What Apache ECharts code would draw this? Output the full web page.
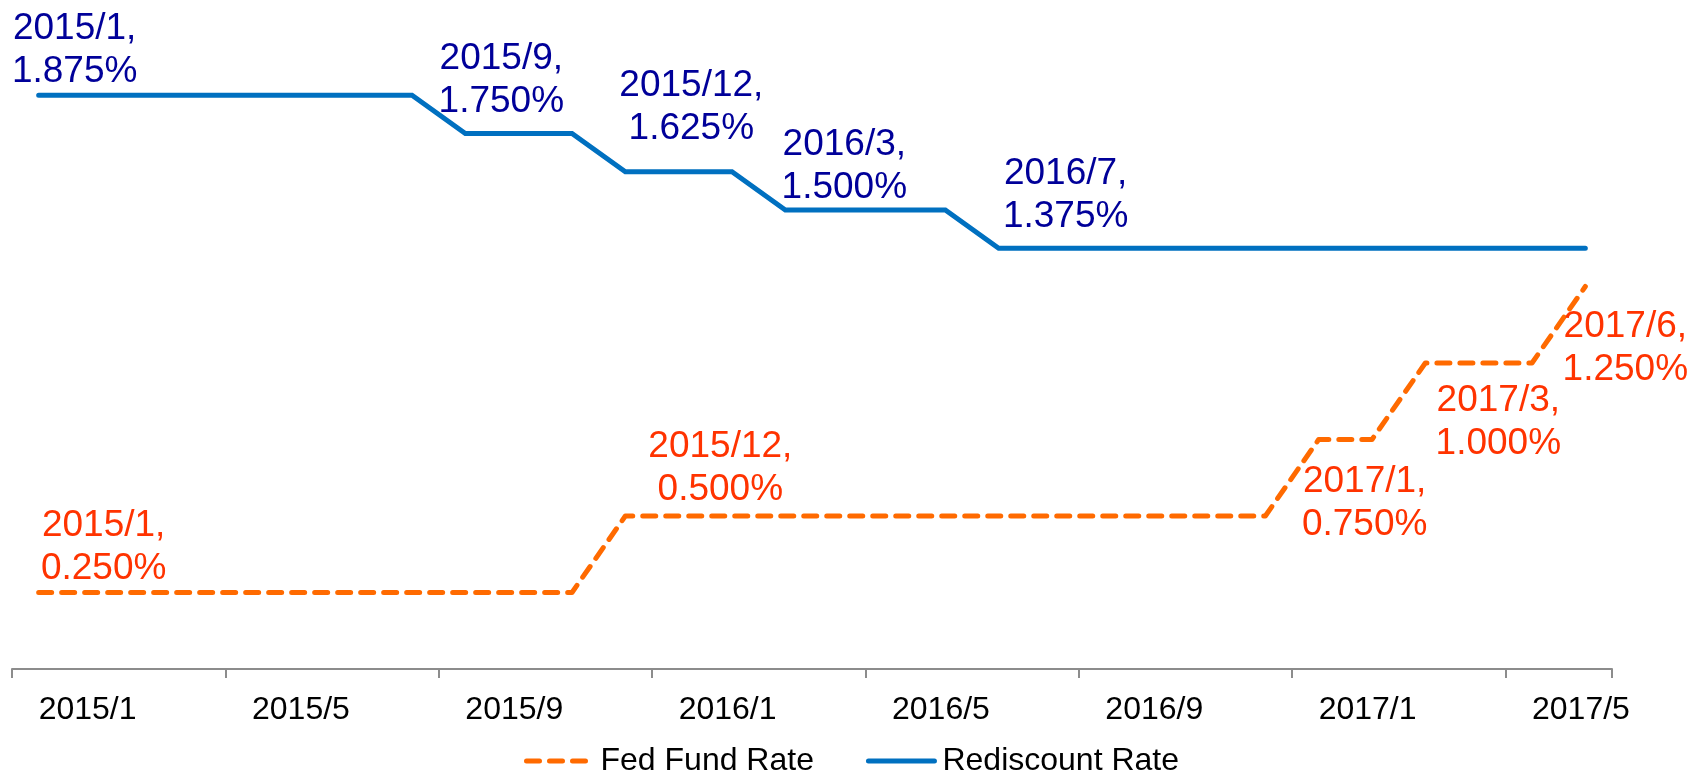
<!DOCTYPE html>
<html>
<head>
<meta charset="utf-8">
<title>Fed Fund Rate vs Rediscount Rate</title>
<script src="https://cdn.jsdelivr.net/npm/echarts@6/dist/echarts.min.js"></script>
<style>
  html, body { margin: 0; padding: 0; background: #ffffff; }
  #chart { width: 1706px; height: 775px; }
</style>
</head>
<body>
<div id="chart"></div>
<script>
// Monthly categories, 2015/1 through 2017/6
const months = [
  '2015/1','2015/2','2015/3','2015/4','2015/5','2015/6','2015/7','2015/8','2015/9','2015/10','2015/11','2015/12',
  '2016/1','2016/2','2016/3','2016/4','2016/5','2016/6','2016/7','2016/8','2016/9','2016/10','2016/11','2016/12',
  '2017/1','2017/2','2017/3','2017/4','2017/5','2017/6'
];

// US federal funds target rate (%)
const fedFundRate = [
  0.25, 0.25, 0.25, 0.25, 0.25, 0.25, 0.25, 0.25, 0.25, 0.25, 0.25,
  0.5, 0.5, 0.5, 0.5, 0.5, 0.5, 0.5, 0.5, 0.5, 0.5, 0.5, 0.5, 0.5,
  0.75, 0.75,
  1.0, 1.0, 1.0,
  1.25
];

// Taiwan central bank rediscount rate (%)
const rediscountRate = [
  1.875, 1.875, 1.875, 1.875, 1.875, 1.875, 1.875, 1.875,
  1.75, 1.75, 1.75,
  1.625, 1.625, 1.625,
  1.5, 1.5, 1.5, 1.5,
  1.375, 1.375, 1.375, 1.375, 1.375, 1.375, 1.375, 1.375, 1.375, 1.375, 1.375, 1.375
];

// Months at which a rate change is annotated
const fedLabelIdx = [0, 11, 24, 26, 29];
const rediscountLabelIdx = [0, 8, 11, 14, 18];

// Annotation placement relative to each annotated point (px)
const fedLabelOffsets = { 0: [65, -45], 11: [95, -48], 24: [46, 64], 26: [73, 59], 29: [40, 62] };
const rediscountLabelOffsets = { 0: [36, -45], 8: [36, -53], 11: [66, -64], 14: [59, -44], 18: [67, -53] };

const FONT = '"Liberation Sans", Arial, Helvetica, sans-serif';
const FED_COLOR = '#FF6A00';
const FED_TEXT = '#FF3300';
const RD_COLOR = '#0070C0';
const RD_TEXT = '#000099';

function buildData(values, labelIdx, offsets) {
  return values.map(function (v, i) {
    if (labelIdx.indexOf(i) >= 0) {
      return { value: v, label: { show: true, offset: offsets[i] } };
    }
    return { value: v };
  });
}

function labelText(p) {
  return p.name + ',\n' + Number(p.value).toFixed(3) + '%';
}

const chart = echarts.init(document.getElementById('chart'), null, { renderer: 'canvas' });

chart.setOption({
  animation: false,
  backgroundColor: '#ffffff',
  grid: { left: 12, right: 94, top: 57, height: 612, containLabel: false },
  legend: {
    left: 524,
    top: 745,
    padding: 0,
    itemGap: 52,
    itemWidth: 66,
    itemHeight: 14,
    textStyle: { fontFamily: FONT, fontSize: 32, color: '#000000', padding: [0, 0, 0, 3], lineHeight: 32 },
    data: [
      { name: 'Fed Fund Rate', itemStyle: { opacity: 0 }, lineStyle: { color: FED_COLOR, width: 5, type: [13, 10], cap: 'round' } },
      { name: 'Rediscount Rate', itemStyle: { opacity: 0 }, lineStyle: { color: RD_COLOR, width: 5, type: 'solid', cap: 'round' } }
    ]
  },
  xAxis: {
    type: 'category',
    data: months,
    boundaryGap: true,
    axisLine: { show: true, lineStyle: { color: '#8C8C8C', width: 2 } },
    axisTick: { show: true, interval: 3, alignWithLabel: false, length: 9, lineStyle: { color: '#8C8C8C', width: 2 } },
    axisLabel: {
      interval: 3,
      align: 'left',
      margin: 25,
      fontFamily: FONT,
      fontSize: 32,
      color: '#000000'
    },
    splitLine: { show: false }
  },
  yAxis: {
    type: 'value',
    min: 0,
    max: 2,
    show: false,
    splitLine: { show: false }
  },
  series: [
    {
      name: 'Fed Fund Rate',
      type: 'line',
      data: buildData(fedFundRate, fedLabelIdx, fedLabelOffsets),
      symbol: 'circle',
      symbolSize: 1,
      showSymbol: true,
      itemStyle: { color: 'rgba(0,0,0,0)', borderWidth: 0 },
      lineStyle: { color: FED_COLOR, width: 5, type: [13, 10], cap: 'round', join: 'round' },
      label: {
        show: false,
        position: 'inside',
        formatter: labelText,
        fontFamily: FONT,
        fontSize: 37,
        lineHeight: 43,
        color: FED_TEXT,
        align: 'center',
        verticalAlign: 'middle'
      },
      emphasis: { disabled: true },
      z: 2
    },
    {
      name: 'Rediscount Rate',
      type: 'line',
      data: buildData(rediscountRate, rediscountLabelIdx, rediscountLabelOffsets),
      symbol: 'circle',
      symbolSize: 1,
      showSymbol: true,
      itemStyle: { color: 'rgba(0,0,0,0)', borderWidth: 0 },
      lineStyle: { color: RD_COLOR, width: 5, type: 'solid', cap: 'round', join: 'miter' },
      label: {
        show: false,
        position: 'inside',
        formatter: labelText,
        fontFamily: FONT,
        fontSize: 37,
        lineHeight: 43,
        color: RD_TEXT,
        align: 'center',
        verticalAlign: 'middle'
      },
      emphasis: { disabled: true },
      z: 3
    }
  ]
});
</script>
</body>
</html>
